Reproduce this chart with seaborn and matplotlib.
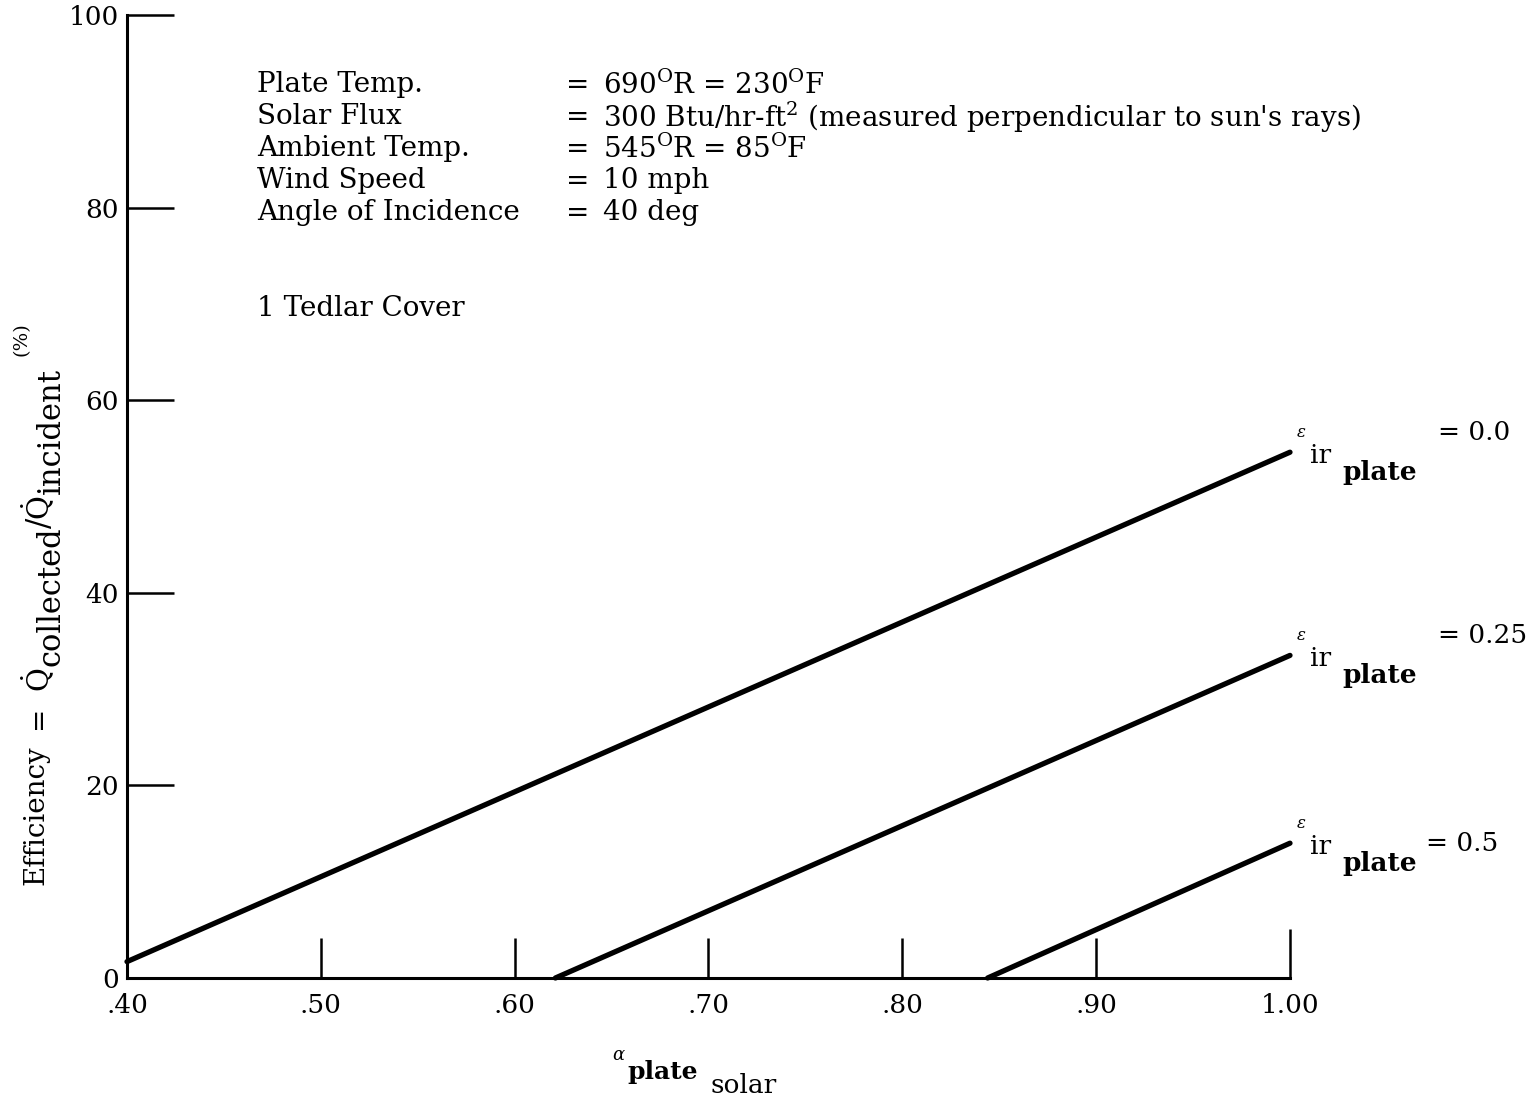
import matplotlib
matplotlib.use("Agg")
import matplotlib.pyplot as plt
import seaborn as sns
import pandas as pd

# Collector efficiency vs. plate solar absorptance, one line per IR emittance
alpha_eps_000 = [0.40, 1.00]
eff_eps_000 = [1.7, 54.6]
alpha_eps_025 = [0.621, 1.00]
eff_eps_025 = [0.0, 33.5]
alpha_eps_050 = [0.844, 1.00]
eff_eps_050 = [0.0, 14.0]
emittance_labels = ["= 0.0", "= 0.25", "= 0.5"]

x_ticks = [0.40, 0.50, 0.60, 0.70, 0.80, 0.90, 1.00]
x_tick_labels = [".40", ".50", ".60", ".70", ".80", ".90", "1.00"]
y_ticks = [0, 20, 40, 60, 80, 100]
y_tick_labels = ["0", "20", "40", "60", "80", "100"]

conditions = ["Plate Temp.", "Solar Flux", "Ambient Temp.", "Wind Speed",
              "Angle of Incidence"]
condition_values = [r"690$^{\mathrm{O}}$R = 230$^{\mathrm{O}}$F",
                    r"300 Btu/hr-ft$^{\mathrm{2}}$ (measured perpendicular to sun's rays)",
                    r"545$^{\mathrm{O}}$R = 85$^{\mathrm{O}}$F",
                    "10 mph",
                    "40 deg"]
cover_note = "1 Tedlar Cover"

series = [(alpha_eps_000, eff_eps_000, emittance_labels[0]),
          (alpha_eps_025, eff_eps_025, emittance_labels[1]),
          (alpha_eps_050, eff_eps_050, emittance_labels[2])]
df = pd.concat([pd.DataFrame({"alpha": a, "eff": e, "eps": lab})
                for a, e, lab in series], ignore_index=True)

sns.set_theme(style="white")
plt.rcParams["font.family"] = ["DejaVu Serif"]
plt.rcParams["mathtext.fontset"] = "dejavuserif"
plt.rcParams["text.color"] = "black"
plt.rcParams["axes.labelcolor"] = "black"
plt.rcParams["xtick.color"] = "black"
plt.rcParams["ytick.color"] = "black"

W, H = 1534, 1098
fig = plt.figure(figsize=(W / 100, H / 100), dpi=100)
ax = fig.add_axes([127 / W, 1 - 978 / H, 1163 / W, 963 / H])

sns.lineplot(data=df, x="alpha", y="eff", hue="eps", units="eps",
             estimator=None, palette=["black"] * 3, linewidth=3.8,
             legend=False, ax=ax, clip_on=False)

ax.set_xlim(0.40, 1.00)
ax.set_ylim(0, 100)
ax.set_xticks(x_ticks)
ax.set_xticklabels(x_tick_labels, fontsize=19)
ax.set_yticks(y_ticks)
ax.set_yticklabels(y_tick_labels, fontsize=19)
for side in ["top", "right"]:
    ax.spines[side].set_visible(False)
for side in ["left", "bottom"]:
    ax.spines[side].set_linewidth(2.2)
    ax.spines[side].set_color("black")
ax.tick_params(axis="x", direction="in", length=29, width=1.8, pad=11,
               bottom=True)
ax.tick_params(axis="y", direction="in", length=34, width=1.8, pad=6,
               left=True)
ax.xaxis.get_major_ticks()[-1].tick1line.set_markersize(35)
ax.set_xlabel("")
ax.set_ylabel("")


def fpx(x, y):
    return x / W, 1 - y / H


renderer = fig.canvas.get_renderer()

# y-axis title, laid out piece by piece from the bottom upwards
ylabel_parts = [("Efficiency", 20, 36, 16),
                ("=", 20, 38, 14),
                (r"$\dot{\mathrm{Q}}$", 21, 38, 2),
                ("collected", 22, 51, -2),
                ("/", 22, 40, -2),
                (r"$\dot{\mathrm{Q}}$", 21, 38, 2),
                ("incident", 22, 51, 12),
                ("(%)", 14, 22, 0)]
y_cursor = H - 885
for txt, size, xc, gap in ylabel_parts:
    t = fig.text(xc / W, y_cursor / H, txt, rotation=90, fontsize=size,
                 ha="center", va="bottom")
    y_cursor += t.get_window_extent(renderer).height + gap

# operating conditions block
row_y = [85, 117, 149, 181, 213]
for name, val, y in zip(conditions, condition_values, row_y):
    fig.text(*fpx(257, y), name, fontsize=20, va="center", ha="left")
    fig.text(*fpx(566, y), "=", fontsize=20, va="center", ha="left")
    fig.text(*fpx(603, y), val, fontsize=20, va="center", ha="left")
fig.text(*fpx(257, 308), cover_note, fontsize=20, va="center", ha="left")

# curve labels at the right end of each line
value_dy = [20, 20, 0]
value_dx = [148, 148, 136]
for (a, e, lab), vdy, vdx in zip(series, value_dy, value_dx):
    end = (a[-1], e[-1])
    kw = dict(xy=end, xycoords="data", textcoords="offset pixels",
              va="center", ha="left", annotation_clip=False)
    ax.annotate(r"$\epsilon$", xytext=(6, 20), fontsize=12, **kw)
    ax.annotate("ir", xytext=(20, -3), fontsize=19, **kw)
    ax.annotate("plate", xytext=(52, -20), fontsize=19, fontweight="bold", **kw)
    ax.annotate(lab, xytext=(vdx, vdy), fontsize=19, **kw)

# x-axis title: alpha, plate, solar
fig.text(*fpx(612, 1055), r"$\alpha$", fontsize=13, va="center", ha="left")
fig.text(*fpx(627, 1072), "plate", fontsize=18, fontweight="bold",
         va="center", ha="left")
fig.text(*fpx(711, 1093), "solar", fontsize=19, va="baseline", ha="left")

fig.savefig("out.png", dpi=100, facecolor="white")
